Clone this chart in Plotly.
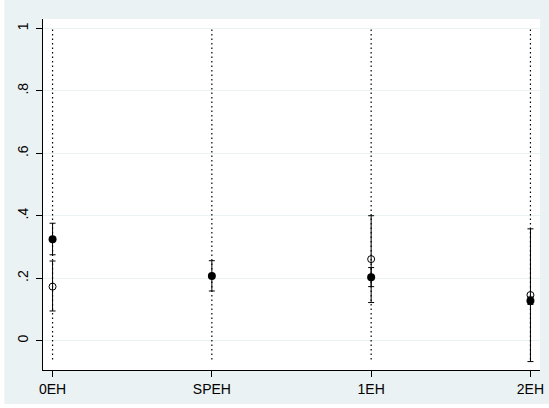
import plotly.graph_objects as go

# ---- data ----
categories = ["0EH", "SPEH", "1EH", "2EH"]
filled_est = [0.325, 0.207, 0.203, 0.128]
filled_lo = [0.275, 0.159, 0.173, 0.116]
filled_hi = [0.376, 0.256, 0.234, 0.140]
hollow_est = [0.173, None, 0.261, 0.146]
hollow_lo = [0.095, None, 0.122, -0.067]
hollow_hi = [0.255, None, 0.400, 0.358]
ref_line_lo = -0.06
ref_line_hi = 1.0
y_tickvals = [0, 0.2, 0.4, 0.6, 0.8, 1]
y_ticktext = ["0", ".2", ".4", ".6", ".8", "1"]

xpos = list(range(len(categories)))

BG = "#eaf2f3"
fig = go.Figure()

# dotted vertical reference lines
lx, ly = [], []
for x in xpos:
    lx += [x, x, None]
    ly += [ref_line_lo, ref_line_hi, None]
fig.add_trace(go.Scatter(x=lx, y=ly, mode="lines",
                         line=dict(color="black", width=1.2, dash="1.5px,3px"),
                         hoverinfo="skip", showlegend=False))

# hollow estimates
hx = [x for x, v in zip(xpos, hollow_est) if v is not None]
hy = [v for v in hollow_est if v is not None]
hp = [h - v for v, h in zip(hollow_est, hollow_hi) if v is not None]
hm = [v - l for v, l in zip(hollow_est, hollow_lo) if v is not None]
fig.add_trace(go.Scatter(x=hx, y=hy, mode="markers",
                         marker=dict(symbol="circle-open", size=7, color="black",
                                     line=dict(width=1, color="black")),
                         error_y=dict(type="data", symmetric=False, array=hp, arrayminus=hm,
                                      color="black", thickness=1, width=3),
                         showlegend=False))

# filled estimates
fp = [h - v for v, h in zip(filled_est, filled_hi)]
fm = [v - l for v, l in zip(filled_est, filled_lo)]
fig.add_trace(go.Scatter(x=xpos, y=filled_est, mode="markers",
                         marker=dict(symbol="circle", size=8, color="black"),
                         error_y=dict(type="data", symmetric=False, array=fp, arrayminus=fm,
                                      color="black", thickness=1, width=3),
                         showlegend=False))

L, R, T, B = 43, 5, 19, 38
W, H = 549, 408
pw, ph = W - L - R, H - T - B

fig.update_layout(
    width=W, height=H,
    margin=dict(l=L, r=R, t=T, b=B),
    paper_bgcolor=BG, plot_bgcolor="white",
    font=dict(family="Liberation Sans, Arial, sans-serif", size=14, color="black"),
    showlegend=False,
    xaxis=dict(range=[-0.06, 3.06], tickvals=xpos, ticktext=categories,
               showgrid=False, zeroline=False, showline=True, linecolor="black", linewidth=1,
               ticks="outside", ticklen=6, tickcolor="black", tickwidth=1),
    yaxis=dict(range=[-0.094, 1.030], tickvals=y_tickvals, ticktext=y_ticktext, tickangle=-90,
               ticklabelstandoff=2,
               showgrid=True, gridcolor=BG, gridwidth=1, zeroline=False,
               showline=True, linecolor="black", linewidth=1,
               ticks="outside", ticklen=6, tickcolor="black", tickwidth=1),
    shapes=[
        dict(type="rect", xref="paper", yref="paper", layer="below",
             x0=-L / pw - 0.01, x1=(4 - L) / pw, y0=-B / ph - 0.01, y1=(H - B + 1) / ph + 0.01,
             fillcolor="white", line=dict(width=0)),
        dict(type="rect", xref="paper", yref="paper", layer="below",
             x0=-L / pw - 0.01, x1=1 + R / pw + 0.01, y0=-B / ph - 0.01, y1=-(404 - (H - B)) / ph,
             fillcolor="white", line=dict(width=0)),
    ],
)

fig.write_html("out.html",
               config={"displayModeBar": False},
               post_script="document.body.style.margin='0';document.body.style.padding='0';document.body.style.overflow='hidden';")
